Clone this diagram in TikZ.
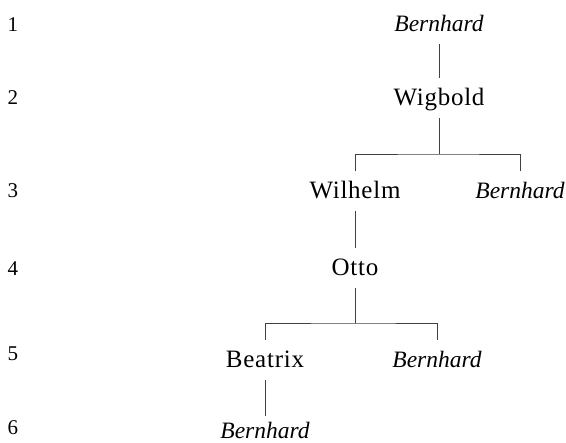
\documentclass[tikz,border=0pt]{standalone}
\usepackage{fontspec}
\setmainfont{Liberation Serif}
\newfontfamily\spacedserif[LetterSpace=3]{Liberation Serif}
\begin{document}
\begin{tikzpicture}[x=1pt,y=-1pt,
  person/.style={font=\fontsize{25}{29}\spacedserif, inner sep=0pt, text height=16pt, text depth=0pt, outer ysep=12pt},
  ital/.style={person, font=\fontsize{23.5}{28}\selectfont\itshape},
  gen/.style={font=\fontsize{21}{25}\selectfont, inner sep=0pt},
  link/.style={line width=0.6pt, draw=black!75}]
\useasboundingbox (0,0) rectangle (566,443);
% generation numbers
\node[gen] (g1) at (13,25) {1};
\node[gen] (g2) at (13,98) {2};
\node[gen] (g3) at (13,191) {3};
\node[gen] (g4) at (13,269) {4};
\node[gen] (g5) at (13,354) {5};
\node[gen] (g6) at (13,428) {6};
% persons
\node[ital] (b1) at (439,24) {Bernhard};
\node[person] (wig) at (439,98) {Wigbold};
\node[person] (wil) at (355,191) {Wilhelm};
\node[ital] (b3) at (520,191) {Bernhard};
\node[person] (otto) at (355,268) {Otto};
\node[person] (bea) at (265,360) {Beatrix};
\node[ital] (b5) at (437,360) {Bernhard};
\node[ital,outer ysep=7pt] (b6) at (265,431) {Bernhard};
% junctions
\coordinate (j1) at (439,154);
\coordinate (j2) at (355,323);
% connectors
\draw[link] (b1.south) -- (wig.north);
\draw[link] (wig.south) -- (j1);
\draw[link] (wil.north) |- (j1) -| (b3.north);
\draw[link] (wil.south) -- (otto.north);
\draw[link] (otto.south) -- (j2);
\draw[link] (bea.north) |- (j2) -| (b5.north);
\draw[link] (bea.south) -- (b6.north);
\end{tikzpicture}
\end{document}
